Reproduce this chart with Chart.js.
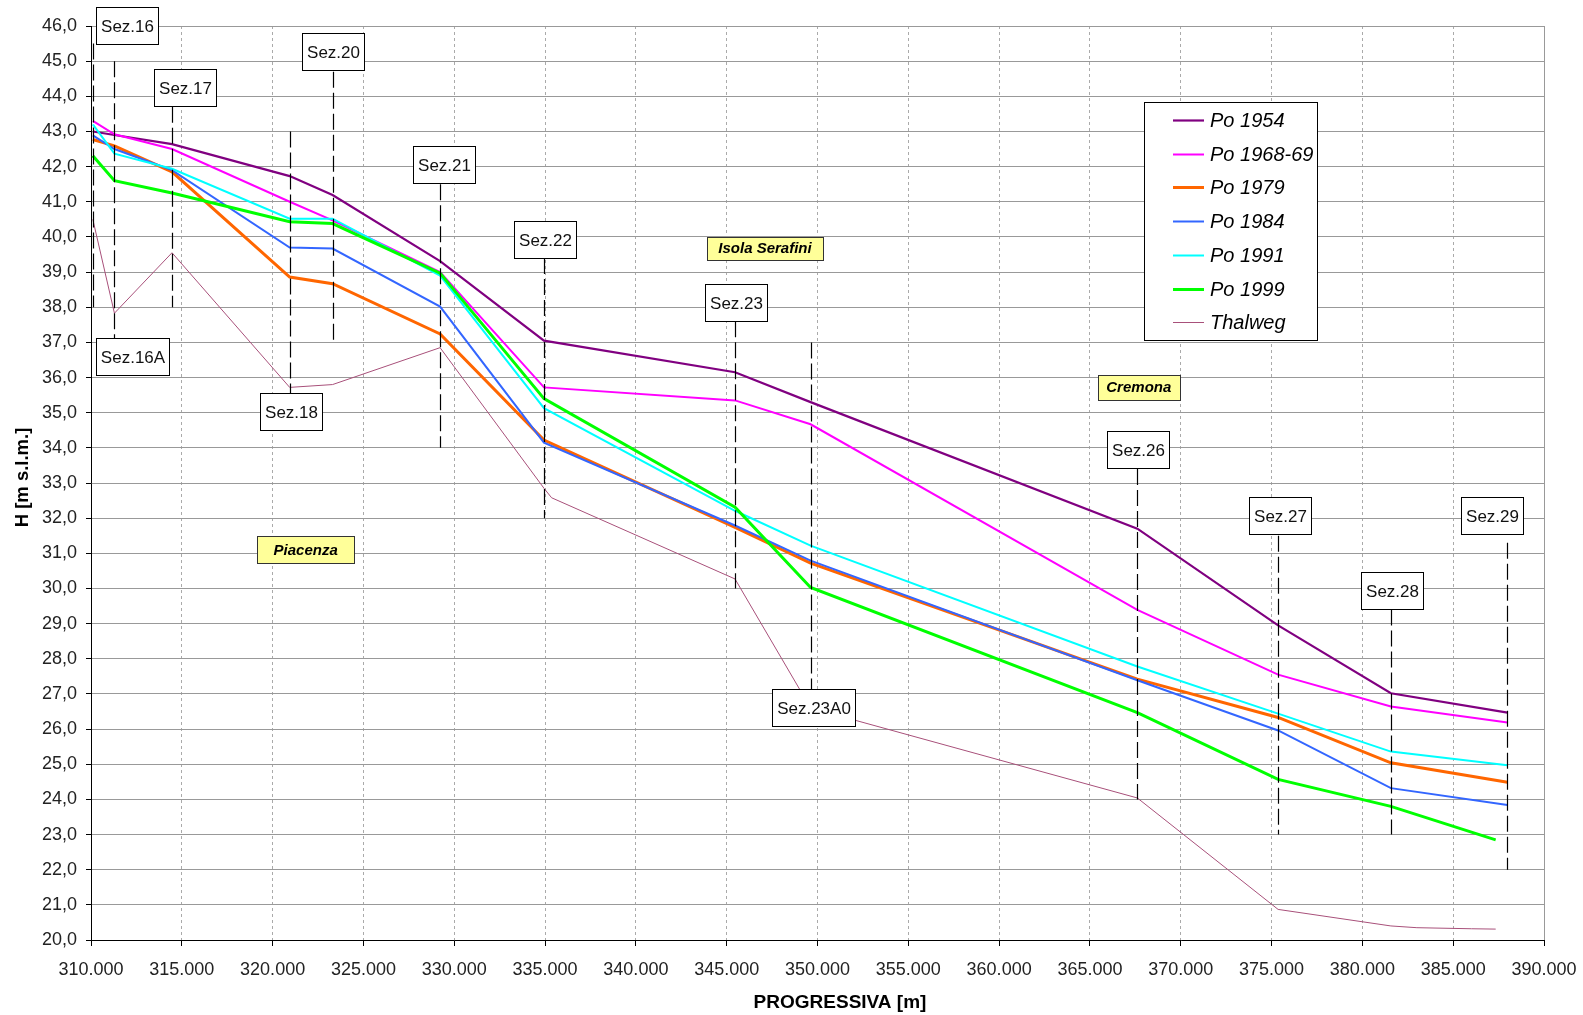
<!DOCTYPE html>
<html>
<head>
<meta charset="utf-8">
<title>Profilo longitudinale Po</title>
<script src="https://cdn.jsdelivr.net/npm/chart.js@4.4.1/dist/chart.umd.min.js"></script>
<style>
  html, body { margin: 0; padding: 0; background: #fff; }
</style>
</head>
<body>
<canvas id="profilo" width="1583" height="1015"></canvas>
<script>
// sezioni e progressive [m]
const sezioni = ["Sez.16", "Sez.16A", "Sez.17", "Sez.18", "Sez.20", "Sez.21", "Sez.22",
  "Sez.23", "Sez.23A0", "Sez.26", "Sez.27", "Sez.28", "Sez.29"];
const progressive = [310100, 311290, 314460, 320940, 323300, 329220, 334940,
  345460, 349620, 367610, 375360, 381570, 387990];
const progressive1999 = [310100, 311290, 314460, 320940, 323300, 329220, 334940,
  345460, 349620, 367610, 375360, 381570, 387340];
const progressiveThalweg = [310100, 311290, 314460, 320940, 323300, 329220, 334940, 335360,
  345460, 349620, 367610, 375360, 381570, 383000, 386000, 387340];

// quote H [m s.l.m.]
const po1954 = [43.0, 42.9, 42.64, 41.73, 41.19, 39.31, 37.05, 36.15, 35.3, 31.7, 28.95, 27.02, 26.47];
const po1968 = [43.3, 42.92, 42.5, 41.0, 40.47, 39.0, 35.72, 35.35, 34.67, 29.39, 27.55, 26.64, 26.19];
const po1979 = [42.77, 42.59, 41.85, 38.86, 38.67, 37.24, 34.22, 31.74, 30.72, 27.42, 26.33, 25.04, 24.49];
const po1984 = [42.89, 42.5, 41.9, 39.7, 39.67, 38.02, 34.15, 31.79, 30.79, 27.39, 25.96, 24.32, 23.84];
const po1991 = [43.2, 42.37, 41.94, 40.52, 40.52, 38.9, 35.13, 32.21, 31.22, 27.78, 26.44, 25.36, 24.97];
const po1999 = [42.31, 41.6, 41.25, 40.43, 40.38, 38.97, 35.4, 32.31, 30.03, 26.47, 24.57, 23.8, 22.85];
const thalweg = [40.5, 37.83, 39.55, 35.72, 35.8, 36.85, 32.85, 32.58, 30.27, 26.6, 24.04, 20.87,
  20.4, 20.35, 20.32, 20.31];

// tratteggi delle sezioni (quota superiore / inferiore)
const sezTop = [45.5, 45.0, 43.7, 43.0, 44.7, 41.5, 39.4, 37.6, 37.0, 33.4, 31.5, 29.4, 31.3];
const sezBottom = [38.0, 37.1, 38.0, 35.5, 37.0, 34.0, 32.0, 30.0, 27.1, 24.0, 23.0, 23.0, 22.0];
// angolo sup. sinistro dei riquadri
const boxX = [310275, 310290, 313465, 319300, 321600, 327710, 333300, 343790, 347490,
  365960, 373770, 379900, 385420];
const boxY = [46.54, 37.13, 44.77, 35.55, 45.79, 42.6, 40.46, 38.66, 27.14, 34.49, 32.6, 30.47, 32.6];

// etichette località (centro)
const localita = ["Isola Serafini", "Cremona", "Piacenza"];
const localitaX = [347110, 367690, 321820];
const localitaY = [39.68, 35.73, 31.11];
const localitaW = [116, 82, 97];
const localitaH = [23, 25, 27];

const FONT = "'Liberation Sans', Arial, sans-serif";

function punti(xs, ys) {
  return xs.map((x, i) => ({ x: x, y: ys[i] }));
}

function serie(label, xs, ys, color, width) {
  return {
    label: label,
    data: punti(xs, ys),
    borderColor: color,
    backgroundColor: color,
    borderWidth: width,
    pointRadius: 0,
    tension: 0,
    fill: false
  };
}

const datasets = [
  serie("Po 1954", progressive, po1954, "#800080", 2.2),
  serie("Po 1968-69", progressive, po1968, "#ff00ff", 2),
  serie("Po 1979", progressive, po1979, "#ff6600", 3),
  serie("Po 1984", progressive, po1984, "#3366ff", 2),
  serie("Po 1991", progressive, po1991, "#00ffff", 2),
  serie("Po 1999", progressive1999, po1999, "#00ff00", 3),
  serie("Thalweg", progressiveThalweg, thalweg, "#a8507a", 1)
];
// in excel l'ultima serie sta sopra
datasets.forEach((d, i) => { d.order = 10 - i; });

const cornice = {
  id: "cornice",
  beforeDatasetsDraw(chart) {
    const { ctx, chartArea } = chart;
    ctx.save();
    ctx.strokeStyle = "#999";
    ctx.lineWidth = 1;
    ctx.beginPath();
    ctx.moveTo(Math.round(chartArea.right) + 0.5, chartArea.top);
    ctx.lineTo(Math.round(chartArea.right) + 0.5, chartArea.bottom);
    ctx.stroke();
    ctx.restore();
  }
};

const annotazioni = {
  id: "annotazioni",
  afterDatasetsDraw(chart) {
    const ctx = chart.ctx;
    const xs = chart.scales.x, ys = chart.scales.y;
    ctx.save();

    // linee tratteggiate delle sezioni
    ctx.strokeStyle = "#000";
    ctx.lineWidth = 1.2;
    ctx.setLineDash([16, 5]);
    for (let i = 0; i < sezioni.length; i++) {
      const px = Math.round(xs.getPixelForValue(progressive[i])) + 0.5;
      ctx.beginPath();
      ctx.moveTo(px, ys.getPixelForValue(sezTop[i]));
      ctx.lineTo(px, ys.getPixelForValue(sezBottom[i]));
      ctx.stroke();
    }
    ctx.setLineDash([]);

    // riquadri sezioni
    ctx.font = "17px " + FONT;
    ctx.textAlign = "center";
    ctx.textBaseline = "middle";
    for (let i = 0; i < sezioni.length; i++) {
      const w = Math.round(ctx.measureText(sezioni[i]).width + 9);
      const h = 37;
      const left = Math.round(xs.getPixelForValue(boxX[i])) + 0.5;
      const top = Math.round(ys.getPixelForValue(boxY[i])) + 0.5;
      ctx.fillStyle = "#fff";
      ctx.fillRect(left, top, w, h);
      ctx.strokeStyle = "#000";
      ctx.lineWidth = 1;
      ctx.strokeRect(left, top, w, h);
      ctx.fillStyle = "#111";
      ctx.fillText(sezioni[i], left + w / 2, top + h / 2 + 1);
    }

    // località
    ctx.font = "italic bold 15px " + FONT;
    for (let i = 0; i < localita.length; i++) {
      const cx = xs.getPixelForValue(localitaX[i]);
      const cy = ys.getPixelForValue(localitaY[i]);
      const left = Math.round(cx - localitaW[i] / 2) + 0.5;
      const top = Math.round(cy - localitaH[i] / 2) + 0.5;
      ctx.fillStyle = "#ffff99";
      ctx.fillRect(left, top, localitaW[i], localitaH[i]);
      ctx.strokeStyle = "#333";
      ctx.lineWidth = 1;
      ctx.strokeRect(left, top, localitaW[i], localitaH[i]);
      ctx.fillStyle = "#000";
      ctx.fillText(localita[i], cx, cy + 1);
    }
    ctx.restore();
  },
  afterDraw(chart) {
    const ctx = chart.ctx;
    ctx.save();
    // legenda
    ctx.fillStyle = "#fff";
    ctx.fillRect(1144.5, 102.5, 173, 238);
    ctx.strokeStyle = "#000";
    ctx.lineWidth = 1;
    ctx.strokeRect(1144.5, 102.5, 173, 238);
    ctx.font = "italic 20px " + FONT;
    ctx.textAlign = "left";
    ctx.textBaseline = "middle";
    chart.data.datasets.forEach((d, i) => {
      const y = Math.round(120 + i * 33.7) + 0.5;
      ctx.strokeStyle = d.borderColor;
      ctx.lineWidth = d.borderWidth;
      ctx.beginPath();
      ctx.moveTo(1173, y);
      ctx.lineTo(1204, y);
      ctx.stroke();
      ctx.fillStyle = "#000";
      ctx.fillText(d.label, 1210, y + 1);
    });

    // titoli assi
    ctx.font = "bold 19px " + FONT;
    ctx.textAlign = "center";
    ctx.fillText("PROGRESSIVA [m]", 840, 1003);
    ctx.translate(23, 477.5);
    ctx.rotate(-Math.PI / 2);
    ctx.font = "bold 18.5px " + FONT;
    ctx.fillText("H [m s.l.m.]", 0, 0);
    ctx.restore();
  }
};

new Chart(document.getElementById("profilo"), {
  type: "line",
  data: { datasets: datasets },
  options: {
    responsive: false,
    animation: false,
    devicePixelRatio: 1,
    layout: { padding: { top: 26, right: 39, left: 0, bottom: 0 } },
    plugins: { legend: { display: false }, tooltip: { enabled: false } },
    scales: {
      x: {
        type: "linear",
        min: 310000,
        max: 390000,
        afterFit(scale) {
          scale.height = 75;
          scale.paddingLeft = 0;
          scale.paddingRight = 0;
        },
        ticks: {
          stepSize: 5000,
          padding: 13,
          color: "#222",
          font: { family: FONT, size: 18 },
          maxRotation: 0,
          callback: v => Math.floor(v / 1000) + "." + String(v % 1000).padStart(3, "0")
        },
        grid: { color: "#aaa", lineWidth: 1, tickColor: "#000", tickLength: 6 },
        border: { color: "#000", width: 1, dash: [3, 3] }
      },
      y: {
        min: 20,
        max: 46,
        afterFit(scale) {
          scale.width = 91;
          scale.paddingTop = 0;
          scale.paddingBottom = 0;
        },
        ticks: {
          stepSize: 1,
          padding: 9,
          color: "#222",
          font: { family: FONT, size: 18 },
          callback: v => v.toFixed(1).replace(".", ",")
        },
        grid: { color: "#999", lineWidth: 1, tickColor: "#000", tickLength: 5 },
        border: { color: "#000", width: 1 }
      }
    }
  },
  plugins: [cornice, annotazioni]
});
</script>
</body>
</html>
